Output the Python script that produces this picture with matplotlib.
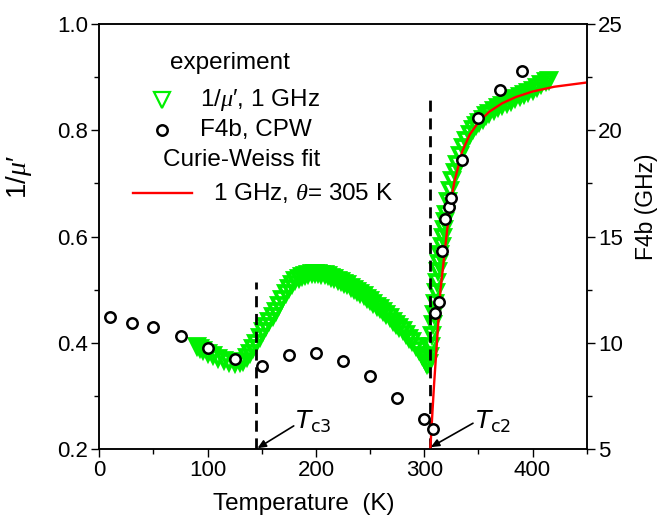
import matplotlib
matplotlib.use("Agg")
import matplotlib.pyplot as plt
from matplotlib.ticker import MultipleLocator
from matplotlib.lines import Line2D

plt.rcParams['font.family'] = ['Liberation Sans', 'DejaVu Sans']
plt.rcParams['mathtext.fontset'] = 'custom'
plt.rcParams['mathtext.rm'] = 'Liberation Sans'
plt.rcParams['mathtext.it'] = 'Liberation Serif:italic'
plt.rcParams['mathtext.bf'] = 'Liberation Sans:bold'

# ---- data: 1/mu' at 1 GHz (green triangles) ----
mu_T = [90, 93, 96, 100, 105, 110, 115, 120, 125, 130, 133, 136, 139, 142, 145,
        148, 151, 154, 157, 160, 163, 166, 169, 172, 175, 178, 181, 184, 187, 190,
        193, 196, 199, 202, 205, 208, 211, 214, 217, 220, 223, 226, 229, 232, 235,
        238, 241, 244, 247, 250, 253, 256, 259, 262, 265, 268, 271, 274, 277, 280,
        283, 286, 289, 292, 295, 298, 300, 302, 303,
        304, 305, 306, 307, 308, 309, 310, 311, 312, 313, 314, 315, 316, 317, 318,
        319, 320, 322, 324, 326, 328, 330, 333, 336, 339, 342, 345, 348, 351, 354,
        357, 360, 364, 368, 372, 376, 380, 384, 388, 392, 396, 400, 404, 408, 412, 415]
mu_inv = [0.394, 0.390, 0.386, 0.381, 0.377, 0.372, 0.368, 0.364, 0.362, 0.364, 0.367,
          0.373, 0.381, 0.390, 0.400, 0.411, 0.422, 0.432, 0.441, 0.451, 0.461, 0.472,
          0.483, 0.494, 0.503, 0.511, 0.518, 0.523, 0.526, 0.528, 0.530, 0.531, 0.531,
          0.531, 0.530, 0.529, 0.527, 0.524, 0.522, 0.519, 0.516, 0.513, 0.510, 0.506,
          0.502, 0.498, 0.494, 0.490, 0.485, 0.480, 0.475, 0.470, 0.465, 0.460, 0.454,
          0.448, 0.442, 0.436, 0.430, 0.424, 0.417, 0.410, 0.403, 0.395, 0.387, 0.378,
          0.371, 0.364, 0.360,
          0.362, 0.375, 0.395, 0.415, 0.435, 0.455, 0.475, 0.495, 0.515, 0.535, 0.550,
          0.567, 0.583, 0.600, 0.615, 0.630, 0.643, 0.667, 0.688, 0.706, 0.722, 0.736,
          0.754, 0.768, 0.782, 0.793, 0.802, 0.810, 0.816, 0.822, 0.828, 0.833, 0.838,
          0.843, 0.848, 0.852, 0.856, 0.860, 0.864, 0.868, 0.872, 0.876, 0.881, 0.887,
          0.892, 0.895]

# ---- data: F4b from CPW (black circles, right axis) ----
f4b_T = [10, 30, 50, 75, 100, 125, 150, 175, 200, 225, 250, 275, 300, 308,
         310, 314, 316.5, 319.5, 322.5, 324.7, 335, 350, 370, 390]
f4b_GHz = [11.23, 10.94, 10.73, 10.33, 9.74, 9.25, 8.94, 9.42, 9.52, 9.13, 8.45,
           7.43, 6.44, 5.97, 11.43, 11.95, 14.32, 15.81, 16.40, 16.82, 18.61,
           20.60, 21.90, 22.79]

# ---- Curie-Weiss fit, 1 GHz, theta = 305 K (red line) ----
fit_T = [305.6, 307, 309, 312, 315, 318, 321, 324, 328, 335, 342, 350, 360, 372,
         385, 400, 420, 435, 450]
fit_inv = [0.20, 0.25, 0.32, 0.41, 0.50, 0.555, 0.61, 0.66, 0.705, 0.76, 0.792,
           0.815, 0.835, 0.851, 0.863, 0.873, 0.882, 0.886, 0.890]

# transition temperatures
TC3 = 145
TC2 = 305.5
TC3_TOP = 0.515
TC2_TOP = 0.857

GREEN = '#00f000'

fig = plt.figure(figsize=(6.68, 5.2), dpi=100)
ax = fig.add_axes([0.1487, 0.1360, 0.7296, 0.8178])
ax2 = ax.twinx()

ax.plot(mu_T, mu_inv, linestyle='none', marker='v', markersize=10,
        markerfacecolor='none', markeredgecolor=GREEN, markeredgewidth=2.7, zorder=2)

dash = (0, (4, 2.4))
ax.plot([TC3, TC3], [0.2, TC3_TOP], color='black', lw=2.0, linestyle=dash, zorder=3)
ax.plot([TC2, TC2], [0.2, TC2_TOP], color='black', lw=2.0, linestyle=dash, zorder=3)

ax.plot(fit_T, fit_inv, color='#ff0000', lw=1.7, zorder=4)

ax2.plot(f4b_T, f4b_GHz, linestyle='none', marker='o', markersize=7.5,
         markerfacecolor='white', markeredgecolor='black', markeredgewidth=1.8, zorder=5)

ax.set_xlim(0, 450)
ax.set_ylim(0.2, 1.0)
ax2.set_ylim(5, 25)

ax.xaxis.set_major_locator(MultipleLocator(100))
ax.xaxis.set_minor_locator(MultipleLocator(50))
ax.yaxis.set_major_locator(MultipleLocator(0.2))
ax.yaxis.set_minor_locator(MultipleLocator(0.1))
ax2.yaxis.set_major_locator(MultipleLocator(5))
ax2.yaxis.set_minor_locator(MultipleLocator(2.5))

ax.tick_params(which='both', direction='out', top=False, right=False, width=1.0,
               labelsize=16, pad=2)
ax.tick_params(which='major', length=6)
ax.tick_params(which='minor', length=3.5)
ax2.tick_params(which='both', direction='out', width=1.0, labelsize=16, pad=2)
ax2.tick_params(which='major', length=6)
ax2.tick_params(which='minor', length=3.5)

for a in (ax, ax2):
    for s in a.spines.values():
        s.set_linewidth(1.1)

ax.set_yticklabels([f"{v:.1f}" for v in ax.get_yticks()])

ax.set_xlabel('Temperature  (K)', fontsize=17.5)
ax.xaxis.set_label_coords(0.42, -0.103)
ax.xaxis.label.set_va('top')
ax.set_ylabel("1/$\\mu$\u2032", fontsize=20)
ax.yaxis.set_label_coords(-0.135, 0.64)
ax2.set_ylabel('F4b (GHz)', fontsize=16.5)
ax2.yaxis.set_label_coords(1.099, 0.57)

# legend (manual, Origin style)
ax.text(0.145, 0.908, 'experiment', transform=ax.transAxes, fontsize=17.5,
        ha='left', va='center')
ax.add_line(Line2D([0.129], [0.821], transform=ax.transAxes, marker='v',
                   markersize=11, markerfacecolor='none', markeredgecolor=GREEN,
                   markeredgewidth=1.6, linestyle='none'))
ax.text(0.207, 0.821, "1/$\\mu$\u2032, 1 GHz", transform=ax.transAxes, fontsize=17.5,
        ha='left', va='center')
ax.add_line(Line2D([0.128], [0.751], transform=ax.transAxes, marker='o',
                   markersize=7.5, markerfacecolor='white', markeredgecolor='black',
                   markeredgewidth=1.8, linestyle='none'))
ax.text(0.207, 0.751, 'F4b, CPW', transform=ax.transAxes, fontsize=17.5,
        ha='left', va='center')
ax.text(0.131, 0.680, 'Curie-Weiss fit', transform=ax.transAxes, fontsize=17.5,
        ha='left', va='center')
ax.add_line(Line2D([0.069, 0.190], [0.603, 0.603], transform=ax.transAxes,
                   color='#ff0000', lw=1.7))
ax.text(0.233, 0.603, r"1 GHz, $\theta$= 305 K", transform=ax.transAxes,
        fontsize=17.5, ha='left', va='center')

# Tc annotations
arrow = dict(arrowstyle='-|>,head_length=0.5,head_width=0.22', color='black', lw=1.2,
             shrinkA=0, shrinkB=0)
ax.annotate('', xy=(TC3 + 1, 0.202), xytext=(179.5, 0.244), arrowprops=arrow)
ax.text(181, 0.251, r'$\mathit{T}_{\mathrm{c3}}$', fontsize=18, ha='left', va='center',
        math_fontfamily='dejavusans')
ax.annotate('', xy=(TC2 + 0.5, 0.204), xytext=(345, 0.249), arrowprops=arrow)
ax.text(347, 0.251, r'$\mathit{T}_{\mathrm{c2}}$', fontsize=18, ha='left', va='center',
        math_fontfamily='dejavusans')

fig.savefig('out.png', dpi=100)
